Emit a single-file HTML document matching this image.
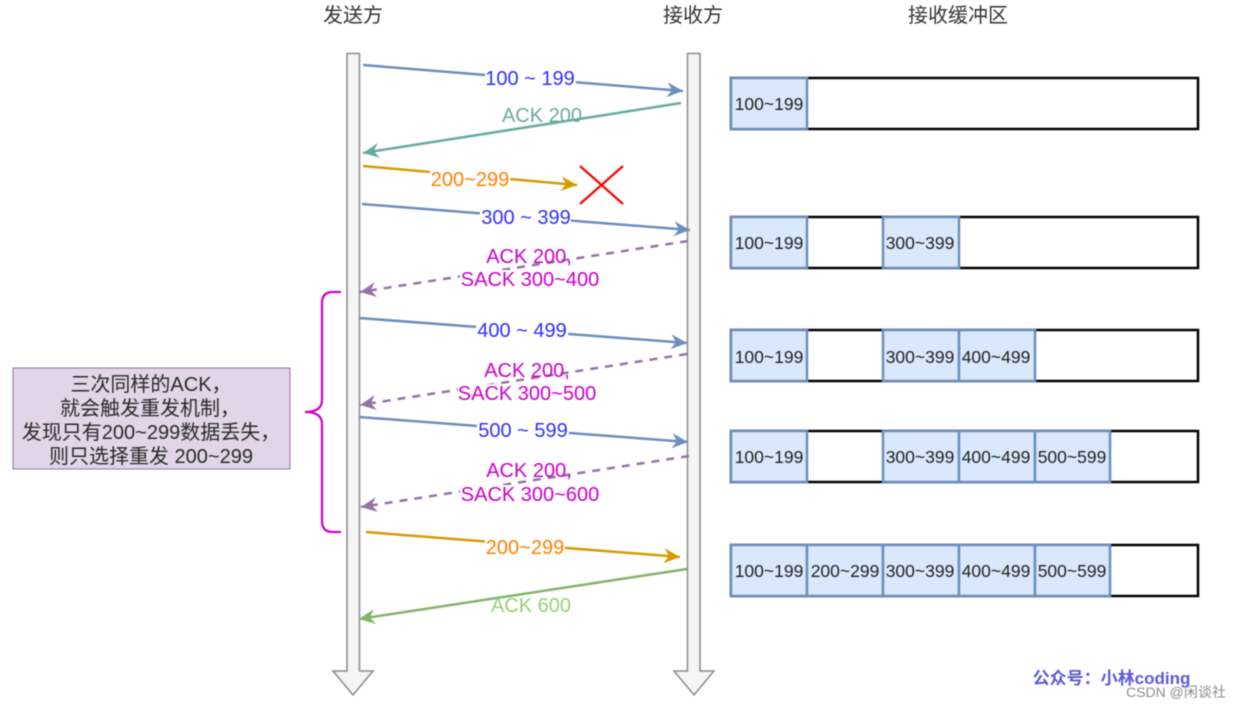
<!DOCTYPE html>
<html>
<head>
<meta charset="utf-8">
<style>
html,body{margin:0;padding:0;background:#fff;width:1241px;height:709px;overflow:hidden}
svg{display:block;filter:blur(0.45px)}
text{font-family:"Liberation Sans","Noto Sans CJK SC",sans-serif;font-size:20px;text-anchor:middle}
.c{font-size:17.5px;fill:#222}
.h{fill:#333}
.n{fill:#2a2a2a}
</style>
</head>
<body>
<svg width="1241" height="709" viewBox="0 0 1241 709" xmlns="http://www.w3.org/2000/svg">
<defs>
<marker id="b" markerUnits="userSpaceOnUse" markerWidth="18" markerHeight="18" refX="16" refY="9" orient="auto"><path d="M16 9L0 1.500L5 9L0 16.500Z" fill="#6c8ebf"/></marker>
<marker id="t" markerUnits="userSpaceOnUse" markerWidth="18" markerHeight="18" refX="16" refY="9" orient="auto"><path d="M16 9L0 1.500L5 9L0 16.500Z" fill="#67ab9f"/></marker>
<marker id="o" markerUnits="userSpaceOnUse" markerWidth="18" markerHeight="18" refX="16" refY="9" orient="auto"><path d="M16 9L0 1.500L5 9L0 16.500Z" fill="#d79b00"/></marker>
<marker id="p" markerUnits="userSpaceOnUse" markerWidth="18" markerHeight="18" refX="16" refY="9" orient="auto"><path d="M16 9L0 1.500L5 9L0 16.500Z" fill="#9673a6"/></marker>
<marker id="g" markerUnits="userSpaceOnUse" markerWidth="18" markerHeight="18" refX="16" refY="9" orient="auto"><path d="M16 9L0 1.500L5 9L0 16.500Z" fill="#82b366"/></marker>
</defs>

<text class="h" x="353" y="22">发送方</text>
<text class="h" x="693" y="22">接收方</text>
<text class="h" x="958" y="22">接收缓冲区</text>

<!-- timelines -->
<path d="M347 53.500H359.500V671H373L353 695L333 671H347Z" fill="#f5f5f5" stroke="#8a8a8a" stroke-width="1.500"/>
<path d="M687.500 53.500H700V671H714L694 695L674 671H687.500Z" fill="#f5f5f5" stroke="#8a8a8a" stroke-width="1.500"/>

<!-- connectors -->
<g fill="none" stroke-width="2.500">
<line x1="363" y1="65" x2="683" y2="91" stroke="#6c8ebf" marker-end="url(#b)"/>
<line x1="681" y1="103" x2="363" y2="153" stroke="#67ab9f" marker-end="url(#t)"/>
<line x1="363" y1="166" x2="577" y2="185" stroke="#d79b00" marker-end="url(#o)"/>
<line x1="362" y1="204" x2="690" y2="230" stroke="#6c8ebf" marker-end="url(#b)"/>
<line x1="688" y1="241" x2="360" y2="292" stroke="#9673a6" stroke-dasharray="8 7" marker-end="url(#p)"/>
<line x1="359" y1="318" x2="687" y2="343" stroke="#6c8ebf" marker-end="url(#b)"/>
<line x1="687" y1="354" x2="360" y2="405" stroke="#9673a6" stroke-dasharray="8 7" marker-end="url(#p)"/>
<line x1="359" y1="417" x2="688" y2="442" stroke="#6c8ebf" marker-end="url(#b)"/>
<line x1="689" y1="456" x2="361" y2="507" stroke="#9673a6" stroke-dasharray="8 7" marker-end="url(#p)"/>
<line x1="366" y1="532" x2="680" y2="557" stroke="#d79b00" marker-end="url(#o)"/>
<line x1="687" y1="569" x2="359" y2="619" stroke="#82b366" marker-end="url(#g)"/>
</g>

<!-- red cross -->
<path d="M580 166L623 204M623 166L580 204" stroke="#ff0000" stroke-width="2.200" fill="none"/>

<!-- label backgrounds -->
<g fill="#fff">
<rect x="485" y="68" width="91" height="22"/>
<rect x="430" y="169" width="80" height="22"/>
<rect x="480" y="207" width="91" height="22"/>
<rect x="476" y="320" width="92" height="22"/>
<rect x="477" y="420" width="92" height="22"/>
<rect x="485" y="537" width="80" height="22"/>
<rect x="460" y="270" width="140" height="20"/>
<rect x="458" y="384" width="140" height="20"/>
<rect x="460" y="485" width="140" height="20"/>
</g>

<!-- connector labels -->
<text x="530" y="85" fill="#3030ff">100 ~ 199</text>
<text x="542" y="122" fill="#67ab9f">ACK 200</text>
<text x="470" y="186" fill="#ff8000">200~299</text>
<text x="526" y="224" fill="#3030ff">300 ~ 399</text>
<text x="529" y="263" fill="#cc00cc">ACK 200,</text>
<text x="530" y="286" fill="#cc00cc">SACK 300~400</text>
<text x="522" y="337" fill="#3030ff">400 ~ 499</text>
<text x="527" y="377" fill="#cc00cc">ACK 200,</text>
<text x="527" y="400" fill="#cc00cc">SACK 300~500</text>
<text x="523" y="437" fill="#3030ff">500 ~ 599</text>
<text x="529" y="477" fill="#cc00cc">ACK 200,</text>
<text x="530" y="501" fill="#cc00cc">SACK 300~600</text>
<text x="525" y="554" fill="#ff8000">200~299</text>
<text x="531" y="612" fill="#97d077">ACK 600</text>

<!-- brace -->
<path d="M341 292H333Q322 292 322 303V400Q322 412 305 412Q322 412 322 424V521Q322 532 333 532H341" fill="none" stroke="#cc00cc" stroke-width="2.200"/>

<!-- note -->
<rect x="13" y="368" width="277" height="101" fill="#e1d5e7" stroke="#9673a6" stroke-width="1"/>
<text class="n" x="151" y="391">三次同样的ACK，</text>
<text class="n" x="150" y="415">就会触发重发机制，</text>
<text class="n" x="151" y="439">发现只有200~299数据丢失，</text>
<text class="n" x="151" y="463">则只选择重发 200~299</text>

<!-- buffers -->
<g fill="#fff" stroke="#000" stroke-width="2.500">
<rect x="731" y="78" width="467" height="51"/>
<rect x="731" y="217" width="467" height="51"/>
<rect x="731" y="330" width="467" height="51"/>
<rect x="731" y="431" width="467" height="51"/>
<rect x="731" y="545" width="467" height="51"/>
</g>
<g fill="#dae8fc" stroke="#6c8ebf" stroke-width="2.500">
<rect x="731" y="78" width="76" height="51"/>
<rect x="731" y="217" width="76" height="51"/>
<rect x="883" y="217" width="76" height="51"/>
<rect x="731" y="330" width="76" height="51"/>
<rect x="883" y="330" width="76" height="51"/>
<rect x="959" y="330" width="76" height="51"/>
<rect x="731" y="431" width="76" height="51"/>
<rect x="883" y="431" width="76" height="51"/>
<rect x="959" y="431" width="76" height="51"/>
<rect x="1035" y="431" width="75" height="51"/>
<rect x="731" y="545" width="76" height="51"/>
<rect x="807" y="545" width="76" height="51"/>
<rect x="883" y="545" width="76" height="51"/>
<rect x="959" y="545" width="76" height="51"/>
<rect x="1035" y="545" width="75" height="51"/>
</g>
<text class="c" x="769" y="110">100~199</text>
<text class="c" x="769" y="249">100~199</text>
<text class="c" x="920" y="249">300~399</text>
<text class="c" x="769" y="363">100~199</text>
<text class="c" x="920" y="363">300~399</text>
<text class="c" x="996" y="363">400~499</text>
<text class="c" x="769" y="463">100~199</text>
<text class="c" x="920" y="463">300~399</text>
<text class="c" x="996" y="463">400~499</text>
<text class="c" x="1072" y="463">500~599</text>
<text class="c" x="769" y="577">100~199</text>
<text class="c" x="845" y="577">200~299</text>
<text class="c" x="920" y="577">300~399</text>
<text class="c" x="996" y="577">400~499</text>
<text class="c" x="1072" y="577">500~599</text>

<!-- footer -->
<text x="1111.500" y="684" style="font-size:17px;font-weight:bold" fill="#5b5bd6">公众号：小林coding</text>
<text x="1176" y="697" style="font-size:14px" fill="#8c8c8c">CSDN @闲谈社</text>
</svg>
</body>
</html>
